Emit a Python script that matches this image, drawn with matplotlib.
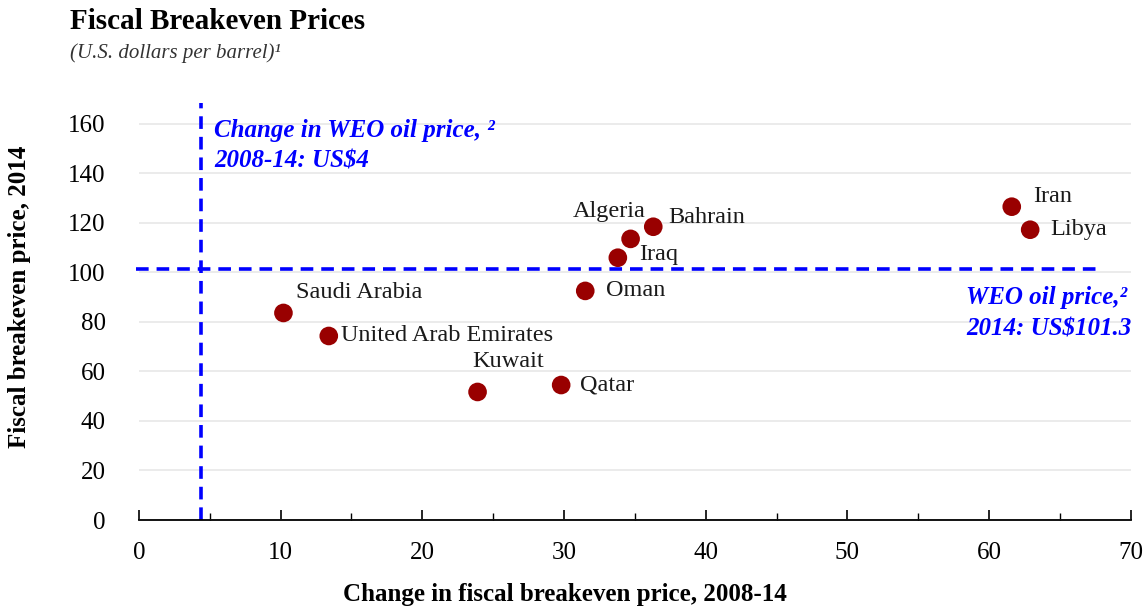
import matplotlib
matplotlib.use("Agg")
import matplotlib.pyplot as plt
from matplotlib.ticker import MultipleLocator

# data
countries = ["Saudi Arabia", "United Arab Emirates", "Kuwait", "Qatar", "Oman",
             "Iraq", "Algeria", "Bahrain", "Iran", "Libya"]
change_0814 = [10.2, 13.4, 23.9, 29.8, 31.5, 33.8, 34.7, 36.3, 61.6, 62.9]
breakeven_2014 = [83.6, 74.3, 51.7, 54.5, 92.5, 105.9, 113.5, 118.4, 126.5, 117.2]
# label offsets in pixels (dx, dy), text anchored at left/centre
label_offsets = [(13, 20), (12, 0), (-5, 30), (19, 0), (21, 0),
                 (21, 3), (-58, 27), (15, 9), (21, 10), (20, 0)]

weo_price_2014 = 101.3
weo_change = 4.4

plt.rcParams['font.family'] = ['Liberation Serif', 'DejaVu Serif']

fig = plt.figure(figsize=(11.48, 6.07), dpi=100)
ax = fig.add_axes([0.121, 0.1433, 0.864, 0.6937])

ax.set_xlim(0, 70)
ax.set_ylim(0, 170)

ax.set_yticks(range(0, 161, 20))
ax.xaxis.set_major_locator(MultipleLocator(10))
ax.xaxis.set_minor_locator(MultipleLocator(5))

ax.grid(axis='y', color='#e8e8e8', linewidth=1.2, zorder=0)
for s in ['top', 'right', 'left']:
    ax.spines[s].set_visible(False)
ax.spines['bottom'].set_linewidth(1.3)
ax.tick_params(axis='x', which='major', direction='in', length=7, width=1.2,
               labelsize=18, pad=16)
ax.tick_params(axis='x', which='minor', direction='in', length=5, width=1.0)
ax.tick_params(axis='y', length=0, labelsize=18, pad=24)

# reference lines
ax.plot([-0.2, 67.8], [weo_price_2014, weo_price_2014], color='#0000ff',
        linestyle=(0, (3.5, 2.2)), linewidth=2.6, zorder=2, clip_on=False)
ax.plot([weo_change, weo_change], [0, 168.5], color='#0000ff',
        linestyle=(0, (3.5, 2.2)), linewidth=2.6, zorder=2, clip_on=False)

ax.scatter(change_0814, breakeven_2014, s=180, color='#990000', zorder=3,
           edgecolors='none')

for name, x, y, (dx, dy) in zip(countries, change_0814, breakeven_2014, label_offsets):
    ax.annotate(name, (x, y), xytext=(dx * 0.72, dy * 0.72), textcoords='offset points',
                ha='left', va='center', fontsize=17.5, color='#1a1a1a')

ax.text(5.3, 162, "Change in WEO oil price, \u00b2\n2008-14: US$4", color='#0000ff',
        fontsize=18, style='italic', fontweight='bold', ha='left', va='top',
        linespacing=1.45)
ax.text(58.4, 94.5, "WEO oil price,\u00b2\n2014: US$101.3", color='#0000ff',
        fontsize=18, style='italic', fontweight='bold', ha='left', va='top',
        linespacing=1.45)

fig.text(565 / 1148, 1 - 595 / 607, "Change in fiscal breakeven price, 2008-14",
         fontsize=18, fontweight='bold', ha='center', va='center')
fig.text(20 / 1148, 1 - 297 / 607, "Fiscal breakeven price, 2014", fontsize=18,
         fontweight='bold', rotation=90, ha='center', va='center')

fig.text(0.061, 0.965, "Fiscal Breakeven Prices", fontsize=21, fontweight='bold',
         ha='left', va='center')
fig.text(0.061, 0.912, "(U.S. dollars per barrel)\u00b9", fontsize=15, style='italic',
         ha='left', va='center', color='#333333')

fig.savefig("out.png", dpi=100)
